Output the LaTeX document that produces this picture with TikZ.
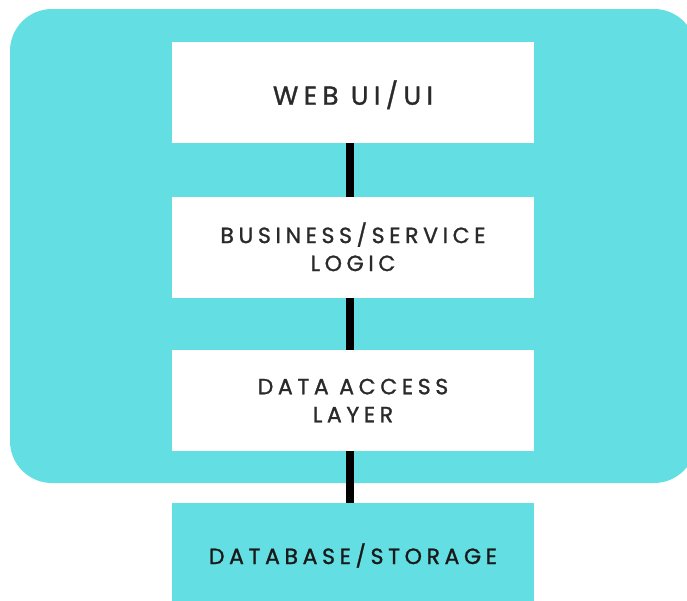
\documentclass[tikz,border=0pt]{standalone}
\usepackage{fontspec}
\setmainfont{Poppins}[LetterSpace=21, FakeBold=1.2]
\definecolor{layerteal}{HTML}{63DEE2}
\definecolor{layertext}{HTML}{2A2A2A}
\tikzset{
    layer/.style={fill=white, minimum width=362pt, minimum height=101pt,
        inner sep=0pt, align=center, text=layertext,
        font=\fontsize{22}{28}\selectfont},
    store/.style={layer, fill=layerteal, minimum height=105pt, text=black!90},
    link/.style={line width=8pt, black}
}
\begin{document}
\begin{tikzpicture}[x=1pt,y=-1pt]
        \useasboundingbox (0,0) rectangle (687,600);
        \clip (0,0) rectangle (687,600);

        % app container
        \fill[layerteal, rounded corners=42pt] (10,9) rectangle (696,483);

        \node[layer, font=\fontsize{26}{28}\selectfont, text depth=-4pt] (web) at (353,92.5) {WEB UI/UI};
        \node[layer, text depth=2pt] (biz) at (353,247.7) {BUSINESS/SERVICE\\LOGIC};
        \node[layer, text depth=-4pt] (data) at (353,400.5) {DATA ACCESS\\LAYER};
        \node[store] (db) at (353,555.5) {DATABASE/STORAGE};

        \draw[link] ([xshift=-3pt]web.south) -- ([xshift=-3pt]biz.north);
        \draw[link] ([xshift=-3pt]biz.south) -- ([xshift=-3pt]data.north);
        \draw[link] ([xshift=-3pt]data.south) -- ([xshift=-3pt]db.north);
    \end{tikzpicture}
\end{document}
